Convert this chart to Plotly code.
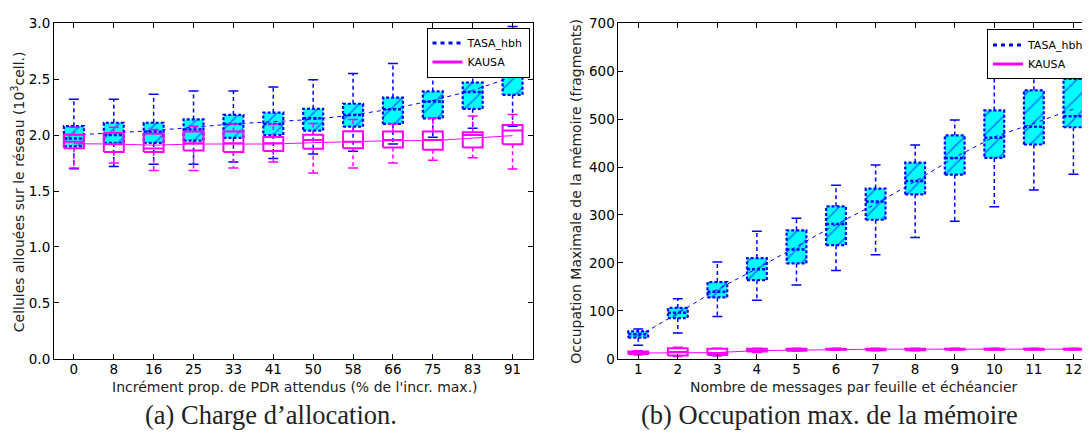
import plotly.graph_objects as go

# --- (a) allocation load, 10^3 cells, per PDR increment ---
pdr_labels = ["0", "8", "16", "25", "33", "41", "50", "58", "66", "75", "83", "91"]

tasa_a_lo = [1.70, 1.72, 1.74, 1.74, 1.76, 1.79, 1.83, 1.855, 1.92, 1.98, 2.06, 2.08]
tasa_a_q1 = [1.90, 1.93, 1.93, 1.95, 1.975, 2.00, 2.04, 2.075, 2.10, 2.15, 2.235, 2.36]
tasa_a_med = [1.97, 2.00, 2.03, 2.05, 2.10, 2.10, 2.15, 2.18, 2.23, 2.30, 2.385, 2.55]
tasa_a_q3 = [2.08, 2.11, 2.11, 2.14, 2.18, 2.20, 2.235, 2.28, 2.335, 2.39, 2.47, 2.635]
tasa_a_hi = [2.32, 2.32, 2.365, 2.395, 2.395, 2.43, 2.495, 2.55, 2.64, 2.665, 2.80, 2.97]
tasa_a_mean = [2.00, 2.02, 2.04, 2.07, 2.10, 2.12, 2.14, 2.18, 2.235, 2.31, 2.40, 2.52]

kausa_a_lo = [1.705, 1.75, 1.683, 1.683, 1.705, 1.76, 1.66, 1.705, 1.75, 1.775, 1.797, 1.697]
kausa_a_q1 = [1.883, 1.849, 1.849, 1.863, 1.849, 1.857, 1.877, 1.883, 1.889, 1.868, 1.889, 1.917]
kausa_a_med = [1.94, 1.917, 1.88, 1.926, 1.926, 1.926, 1.955, 1.94, 1.955, 1.955, 2.00, 2.04]
kausa_a_q3 = [2.003, 2.018, 2.012, 2.032, 2.032, 1.983, 2.003, 2.035, 2.032, 2.032, 2.026, 2.089]
kausa_a_hi = [2.07, 2.07, 2.05, 2.08, 2.10, 2.10, 2.104, 2.14, 2.10, 2.15, 2.17, 2.184]
kausa_a_mean = [1.923, 1.92, 1.91, 1.92, 1.92, 1.92, 1.932, 1.94, 1.95, 1.95, 1.97, 1.995]

# --- (b) max memory occupation (fragments), per messages count ---
msg_labels = ["1", "2", "3", "4", "5", "6", "7", "8", "9", "10", "11", "12"]

tasa_b_lo = [28, 54, 88, 122, 154, 184, 217, 253, 287, 317, 352, 385]
tasa_b_q1 = [44, 85, 128, 164, 199, 237, 290, 343, 384, 419, 447, 483]
tasa_b_med = [51, 96, 140, 187, 228, 281, 328, 371, 419, 461, 484, 506]
tasa_b_q3 = [57, 106, 160, 210, 268, 318, 355, 409, 466, 518, 560, 584]
tasa_b_hi = [62, 125, 202, 266, 293, 362, 404, 446, 498, 594, 603, 640]
tasa_b_mean = [47, 95, 145, 188, 234, 280, 323, 370, 420, 463, 491, 521]

kausa_b_lo = [8, 5, 6, 13, 16, 18, 17, 17, 19, 19, 19, 19]
kausa_b_q1 = [10, 7, 8, 15, 17, 19, 18, 18, 19, 19, 19, 19]
kausa_b_med = [12, 14, 12, 18, 19, 20, 20, 20, 20, 20, 20, 20]
kausa_b_q3 = [15, 22, 21, 21, 21, 21, 21, 21, 21, 21, 21, 21]
kausa_b_hi = [17, 24, 22, 22, 22, 22, 22, 22, 22, 22, 22, 22]
kausa_b_mean = [12, 13, 13, 17, 18.5, 19.5, 20, 20, 20, 20, 20, 20]

BLUE = "#0000ff"
CYAN = "#00ffff"
MAGENTA = "#ff00ff"
HALF = 0.25   # half box width (category units)
CAP = 0.125   # half cap width

# page body keeps its default 8px margin, so the figure is sized to fit the window
PAD = 8
W, H = 1090 - PAD, 439 - PAD


def px(x):
    return (x - PAD) / W


def py(y):
    return 1 - (y - PAD) / H


def box_traces(lo, q1, med, q3, hi, color, hatched, xa, ya):
    pos = list(range(1, len(lo) + 1))
    bx, by, wx, wy, cx, cy, mx, my = [], [], [], [], [], [], [], []
    for p, a, b, m, c, d in zip(pos, lo, q1, med, q3, hi):
        bx += [p - HALF, p + HALF, p + HALF, p - HALF, p - HALF, None]
        by += [b, b, c, c, b, None]
        wx += [p, p, None, p, p, None]
        wy += [c, d, None, b, a, None]
        cx += [p - CAP, p + CAP, None, p - CAP, p + CAP, None]
        cy += [d, d, None, a, a, None]
        mx += [p - HALF, p + HALF, None]
        my += [m, m, None]
    common = dict(xaxis=xa, yaxis=ya, mode="lines", showlegend=False, hoverinfo="skip")
    out = [go.Scatter(x=wx, y=wy, line=dict(color=color, width=1.5, dash="4px,3px"), **common)]
    if hatched:
        out.append(go.Scatter(x=bx, y=by, fill="toself", fillcolor=CYAN,
                              fillpattern=dict(shape="/", bgcolor=CYAN, fgcolor=color,
                                               size=13, solidity=0.12),
                              line=dict(color=color, width=2.2, dash="3px,2px"), **common))
        out.append(go.Scatter(x=mx, y=my, line=dict(color=color, width=2.5, dash="3px,2px"), **common))
    else:
        out.append(go.Scatter(x=bx, y=by, line=dict(color=color, width=2), **common))
        out.append(go.Scatter(x=mx, y=my, line=dict(color=color, width=2), **common))
    out.append(go.Scatter(x=cx, y=cy, line=dict(color=color, width=1.5), **common))
    return out


def mean_line(vals, color, dash, xa, ya):
    return go.Scatter(x=list(range(1, len(vals) + 1)), y=vals, mode="lines",
                      line=dict(color=color, width=1, dash=dash),
                      xaxis=xa, yaxis=ya, showlegend=False, hoverinfo="skip")


fig = go.Figure()

# panel (a)
for t in box_traces(tasa_a_lo, tasa_a_q1, tasa_a_med, tasa_a_q3, tasa_a_hi, BLUE, True, "x", "y"):
    fig.add_trace(t)
fig.add_trace(mean_line(tasa_a_mean, BLUE, "4px,4px", "x", "y"))
for t in box_traces(kausa_a_lo, kausa_a_q1, kausa_a_med, kausa_a_q3, kausa_a_hi, MAGENTA, False, "x", "y"):
    fig.add_trace(t)
fig.add_trace(mean_line(kausa_a_mean, MAGENTA, "solid", "x", "y"))

# panel (b)
for t in box_traces(tasa_b_lo, tasa_b_q1, tasa_b_med, tasa_b_q3, tasa_b_hi, BLUE, True, "x2", "y2"):
    fig.add_trace(t)
fig.add_trace(mean_line(tasa_b_mean, BLUE, "4px,4px", "x2", "y2"))
for t in box_traces(kausa_b_lo, kausa_b_q1, kausa_b_med, kausa_b_q3, kausa_b_hi, MAGENTA, False, "x2", "y2"):
    fig.add_trace(t)
fig.add_trace(mean_line(kausa_b_mean, MAGENTA, "solid", "x2", "y2"))

# legend entries
for lg in ["legend", "legend2"]:
    fig.add_trace(go.Scatter(x=[None], y=[None], mode="lines", name="TASA_hbh", legend=lg,
                             line=dict(color=BLUE, width=3, dash="4px,4px")))
    fig.add_trace(go.Scatter(x=[None], y=[None], mode="lines", name="KAUSA", legend=lg,
                             line=dict(color=MAGENTA, width=3)))

ydom = [py(364), py(15.5)]

axis_common = dict(showline=True, linecolor="black", linewidth=1, ticks="inside",
                   ticklen=5, tickcolor="black", showgrid=False, zeroline=False,
                   ticklabeloverflow="allow", tickfont=dict(size=13.5, color="black"))

fig.update_layout(
    width=W, height=H,
    margin=dict(l=0, r=0, t=0, b=0),
    paper_bgcolor="white", plot_bgcolor="white",
    font=dict(family="DejaVu Sans", color="black"),
    xaxis=dict(domain=[px(54), px(533)], range=[0.5, 12.5], tickvals=list(range(1, 13)),
               ticktext=pdr_labels, mirror="ticks", anchor="y", ticklabelstandoff=-2,
               **axis_common),
    yaxis=dict(domain=ydom, range=[0, 3], dtick=0.5, tickformat=".1f", mirror="ticks",
               anchor="x", **axis_common),
    xaxis2=dict(domain=[px(619), 1.0], range=[0.5, 0.5 + (1090 - 619) / 39.6],
                tickvals=list(range(1, 13)), ticktext=msg_labels, mirror="ticks",
                anchor="y2", ticklabelstandoff=-2, **axis_common),
    yaxis2=dict(domain=ydom, range=[0, 700], dtick=100, anchor="x2", **axis_common),
    legend=dict(x=px(530), xanchor="right", y=py(20), yanchor="top",
                bordercolor="black", borderwidth=1, bgcolor="white",
                font=dict(size=11), tracegroupgap=0, itemwidth=30),
    legend2=dict(x=px(988), xanchor="left", y=py(22), yanchor="top",
                 bordercolor="black", borderwidth=1, bgcolor="white",
                 font=dict(size=11), tracegroupgap=0, itemwidth=30),
)

annots = [
    dict(text="Cellules allouées sur le réseau (10<sup>3</sup>cell.)", x=18, y=190, textangle=-90),
    dict(text="Occupation Maximale de la mémoire (fragments)", x=577, y=190, textangle=-90),
    dict(text="Incrément prop. de PDR attendus (% de l'incr. max.)", x=295, y=393, textangle=0),
    dict(text="Nombre de messages par feuille et échéancier", x=855, y=393, textangle=0),
]
for a in annots:
    fig.add_annotation(text=a["text"], x=px(a["x"]), y=py(a["y"]), xref="paper", yref="paper",
                       xanchor="center", yanchor="middle", textangle=a["textangle"],
                       showarrow=False, font=dict(size=14, family="DejaVu Sans", color="#222"))

captions = [("(a) Charge d’allocation.", 271), ("(b) Occupation max. de la mémoire", 830)]
for txt, cx in captions:
    fig.add_annotation(text=txt, x=px(cx), y=py(422), xref="paper", yref="paper",
                       xanchor="center", yanchor="middle", showarrow=False,
                       font=dict(size=26.5, family="Liberation Serif", color="#222"))

fig.write_html("out.html")
